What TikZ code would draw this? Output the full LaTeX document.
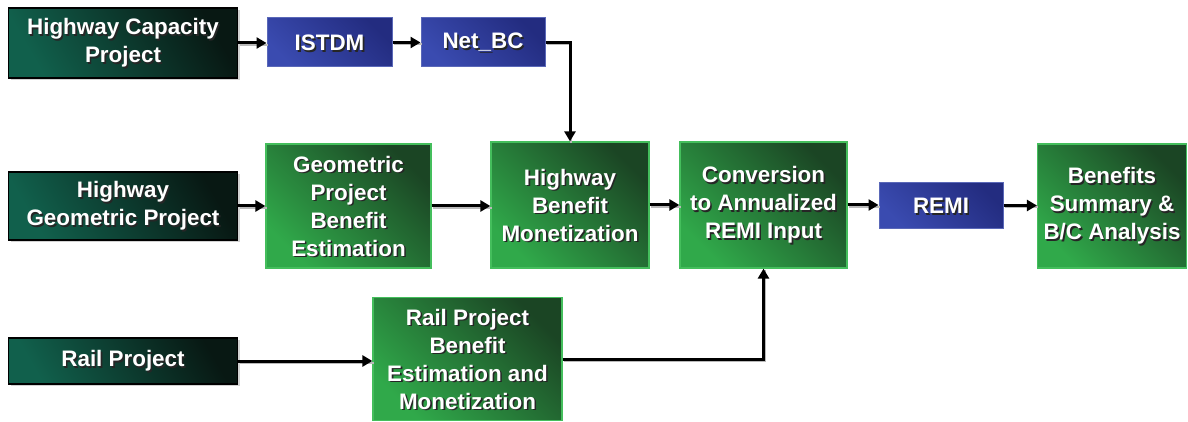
\documentclass[tikz,border=0pt]{standalone}
\usepackage{fontspec}
\setmainfont{Liberation Sans}
\usetikzlibrary{arrows.meta,shadows,calc}
\definecolor{dkA}{HTML}{11604C}
\definecolor{dkB}{HTML}{081813}
\definecolor{blA}{HTML}{3A4BB0}
\definecolor{blB}{HTML}{232C80}
\definecolor{blD}{HTML}{5A68B8}
\definecolor{grA}{HTML}{30A94A}
\definecolor{grB}{HTML}{1B4524}
\definecolor{grD}{HTML}{44BE5C}
\tikzset{
  txt/.style={text=white, font=\bfseries\fontsize{22.4}{28}\selectfont, align=center, inner sep=0pt},
  shtx/.style={path picture={\node[txt, text=black!85] at ([shift={(1.6pt,-1.8pt)}]path picture bounding box.center) {#1};}},
  dkbox/.style={txt, draw=black, line width=1.6pt, top color=dkB, bottom color=dkA, shading angle=-60,
    drop shadow={shadow xshift=2pt, shadow yshift=-2pt, fill=black!35}},
  blbox/.style={txt, draw=blD, line width=1pt, top color=blB, bottom color=blA, shading angle=-45},
  grbox/.style={txt, draw=grD, line width=1.2pt, top color=grB, bottom color=grA, shading angle=-45},
  arr/.style={-{Triangle[length=10pt,width=11pt]}, line width=3pt, black,
    preaction={draw=gray!55, line width=2.4pt, -, transform canvas={shift={(1.2pt,-1.8pt)}}}}
}
\newcommand\mkbox[6]{\node[#1, minimum width=#4pt, minimum height=#5pt, shtx={#6}] (#2) at (#3) {#6};}
\begin{document}
\begin{tikzpicture}[x=1pt,y=-1pt]
\useasboundingbox (0,0) rectangle (1188,422);
% left column
\mkbox{dkbox}{hc}{123,43}{229}{70}{Highway Capacity\\Project}
\mkbox{dkbox}{hgp}{123,206}{229}{68}{Highway\\Geometric Project}
\mkbox{dkbox}{rail}{123,361}{229}{46}{Rail Project}
% blue boxes
\mkbox{blbox}{istdm}{329.5,42.5}{125}{49}{ISTDM}
\mkbox{blbox}{netbc}{483,42.5}{124}{49}{Net\_BC}
\mkbox{blbox}{remi}{941,205.5}{124}{45}{REMI}
% green boxes
\mkbox{grbox}{gpbe}{348.5,206}{165}{124}{Geometric\\Project\\Benefit\\Estimation}
\mkbox{grbox}{hbm}{570,205}{158}{126}{Highway\\Benefit\\Monetization}
\mkbox{grbox}{conv}{763.5,205}{167}{126}{Conversion\\to Annualized\\REMI Input}
\mkbox{grbox}{bsa}{1112,206}{149}{124}{Benefits\\Summary \&\\B/C Analysis}
\mkbox{grbox}{rpbe}{467.5,359}{189}{123}{Rail Project\\Benefit\\Estimation and\\Monetization}
% connectors
\draw[arr] (hc.east) -- (hc.east -| istdm.west);
\draw[arr] (istdm.east) -- (istdm.east -| netbc.west);
\draw[arr] (netbc.east) -| (hbm.north);
\draw[arr] (hgp.east) -- (hgp.east -| gpbe.west);
\draw[arr] (gpbe.east) -- (gpbe.east -| hbm.west);
\draw[arr] (hbm.east) -- (hbm.east -| conv.west);
\draw[arr] (conv.east) -- (conv.east -| remi.west);
\draw[arr] (remi.east) -- (remi.east -| bsa.west);
\draw[arr] (rail.east) -- (rail.east -| rpbe.west);
\draw[arr] (rpbe.east) -| (conv.south);
\end{tikzpicture}
\end{document}
